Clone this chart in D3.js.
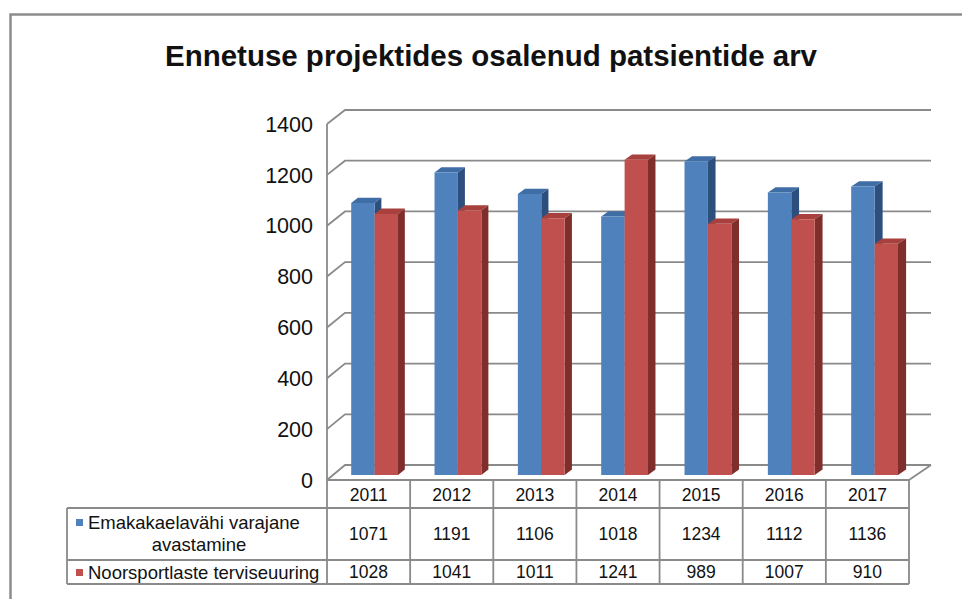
<!DOCTYPE html>
<html>
<head>
<meta charset="utf-8">
<script src="https://cdn.jsdelivr.net/npm/d3@7/dist/d3.min.js"></script>
<style>
  html, body { margin: 0; padding: 0; background: #fff; }
  svg { display: block; font-family: "Liberation Sans", Arial, sans-serif; }
</style>
</head>
<body>
<svg id="chart" width="962" height="599"></svg>
<script>
// ---- data ----
const title = "Ennetuse projektides osalenud patsientide arv";
const years = ["2011", "2012", "2013", "2014", "2015", "2016", "2017"];
const seriesNames = ["Emakakaelavähi varajane avastamine", "Noorsportlaste terviseuuring"];
const emakakaelavahi = [1071, 1191, 1106, 1018, 1234, 1112, 1136];
const noorsportlased = [1028, 1041, 1011, 1241, 989, 1007, 910];
const yTicks = [0, 200, 400, 600, 800, 1000, 1200, 1400];

const seriesValues = [emakakaelavahi, noorsportlased];
const faceColors = [
  { front: "#4F81BD", top: "#3F6DA6", side: "#2D4F7E" },
  { front: "#C0504D", top: "#A8413E", side: "#7F2E2C" }
];

const svg = d3.select("#chart");

// outer chart border
svg.append("rect").attr("x", 10.5).attr("y", 14.5).attr("width", 1000).attr("height", 700)
  .attr("fill", "#fff").attr("stroke", "#8c8c8c").attr("stroke-width", 2.5);

// title
svg.append("text").attr("x", 491).attr("y", 66).attr("text-anchor", "middle")
  .attr("font-size", 29).attr("font-weight", "bold").attr("fill", "#111")
  .attr("textLength", 652).attr("lengthAdjust", "spacingAndGlyphs")
  .text(title);

// ---- 3D projection ----
const frontLeft = 327, frontWidth = 582, backLeft = 345, backWidth = 586;
const yFront = d3.scaleLinear().domain([0, 1400]).range([480, 124]);
const yBack = d3.scaleLinear().domain([0, 1400]).range([465, 110]);
// u: horizontal plane coordinate (0..frontWidth), v: value, d: depth 0(front)..1(back)
function proj(u, v, d) {
  const xf = frontLeft + u;
  const xb = backLeft + u * backWidth / frontWidth;
  return [xf + (xb - xf) * d, yFront(v) + (yBack(v) - yFront(v)) * d];
}

// category band and series sub-band
const xBand = d3.scaleBand().domain(years).range([0, frontWidth]).padding(0);
const xSeries = d3.scaleBand().domain([0, 1]).range([0, xBand.bandwidth()])
  .paddingInner(0).paddingOuter(0.78);

// gridlines (side wall + back wall)
const gridColor = "#8a8a8a";
const grid = svg.append("g");
yTicks.forEach(t => {
  const p0 = proj(0, t, 0), p1 = proj(0, t, 1), p2 = proj(frontWidth, t, 1);
  grid.append("path")
    .attr("d", d3.line()([p0, p1, p2]))
    .attr("fill", "none").attr("stroke", gridColor).attr("stroke-width", 1.8);
});
// floor right edge
grid.append("path").attr("d", d3.line()([proj(frontWidth, 0, 0), proj(frontWidth, 0, 1)]))
  .attr("fill", "none").attr("stroke", gridColor).attr("stroke-width", 1.8);
// left front axis edge
grid.append("path").attr("d", d3.line()([proj(0, 0, 0), proj(0, 1400, 0)]))
  .attr("fill", "none").attr("stroke", gridColor).attr("stroke-width", 1.8);

// y tick labels
svg.append("g").selectAll("text").data(yTicks).join("text")
  .attr("x", 313).attr("y", d => yFront(d)).attr("dy", "0.36em")
  .attr("text-anchor", "end").attr("font-size", 21.5).attr("fill", "#111")
  .text(d => d);

// bars
const d0 = 0.33, d1 = 0.70;
const barsG = svg.append("g");
years.forEach((yr, i) => {
  seriesValues.forEach((vals, s) => {
    const v = vals[i];
    const u0 = xBand(yr) + xSeries(s);
    const u1 = u0 + xSeries.bandwidth();
    const c = faceColors[s];
    const g = barsG.append("g");
    // top face
    g.append("path").attr("d", d3.line()([proj(u0, v, d0), proj(u1, v, d0), proj(u1, v, d1), proj(u0, v, d1)]) + "Z")
      .attr("fill", c.top);
    // side face
    g.append("path").attr("d", d3.line()([proj(u1, v, d0), proj(u1, v, d1), proj(u1, 0, d1), proj(u1, 0, d0)]) + "Z")
      .attr("fill", c.side);
    // front face
    g.append("path").attr("d", d3.line()([proj(u0, v, d0), proj(u1, v, d0), proj(u1, 0, d0), proj(u0, 0, d0)]) + "Z")
      .attr("fill", c.front);
  });
});

// ---- data table ----
const tableColor = "#8a8a8a";
const tb = svg.append("g");
const rowTop = 480, headerBottom = 508, row2Bottom = 560, row3Bottom = 584;
const legendLeft = 67;
const colX = d => frontLeft + xBand(d);
const tableRight = frontLeft + frontWidth;

function hline(x1, x2, y) {
  tb.append("line").attr("x1", x1).attr("x2", x2).attr("y1", y).attr("y2", y)
    .attr("stroke", tableColor).attr("stroke-width", 1.8);
}
function vline(x, y1, y2) {
  tb.append("line").attr("x1", x).attr("x2", x).attr("y1", y1).attr("y2", y2)
    .attr("stroke", tableColor).attr("stroke-width", 1.8);
}
hline(frontLeft, tableRight, rowTop);
hline(legendLeft, tableRight, headerBottom);
hline(legendLeft, tableRight, row2Bottom);
hline(legendLeft, tableRight, row3Bottom);
vline(legendLeft, headerBottom, row3Bottom);
years.forEach(y => vline(colX(y), rowTop, row3Bottom));
vline(tableRight, rowTop, row3Bottom);

const cellFont = 17.5;
// header years
tb.selectAll("text.yr").data(years).join("text").attr("class", "yr")
  .attr("x", d => colX(d) + xBand.bandwidth() / 2).attr("y", 501)
  .attr("text-anchor", "middle").attr("font-size", cellFont).attr("fill", "#111")
  .text(d => d);
// values rows
tb.selectAll("text.v1").data(emakakaelavahi).join("text").attr("class", "v1")
  .attr("x", (d, i) => colX(years[i]) + xBand.bandwidth() / 2).attr("y", 540)
  .attr("text-anchor", "middle").attr("font-size", cellFont).attr("fill", "#111")
  .text(d => d);
tb.selectAll("text.v2").data(noorsportlased).join("text").attr("class", "v2")
  .attr("x", (d, i) => colX(years[i]) + xBand.bandwidth() / 2).attr("y", 578)
  .attr("text-anchor", "middle").attr("font-size", cellFont).attr("fill", "#111")
  .text(d => d);

// legend cells
const legFont = 18.5;
tb.append("rect").attr("x", 76).attr("y", 519).attr("width", 7).attr("height", 7).attr("fill", faceColors[0].front);
tb.append("text").attr("x", 88).attr("y", 529).attr("font-size", legFont).attr("fill", "#111")
  .text("Emakakaelavähi varajane");
tb.append("text").attr("x", 199).attr("y", 551).attr("text-anchor", "middle").attr("font-size", legFont).attr("fill", "#111")
  .text("avastamine");
tb.append("rect").attr("x", 76).attr("y", 569).attr("width", 7).attr("height", 7).attr("fill", faceColors[1].front);
tb.append("text").attr("x", 88).attr("y", 579).attr("font-size", legFont).attr("fill", "#111")
  .text("Noorsportlaste terviseuuring");
</script>
</body>
</html>
